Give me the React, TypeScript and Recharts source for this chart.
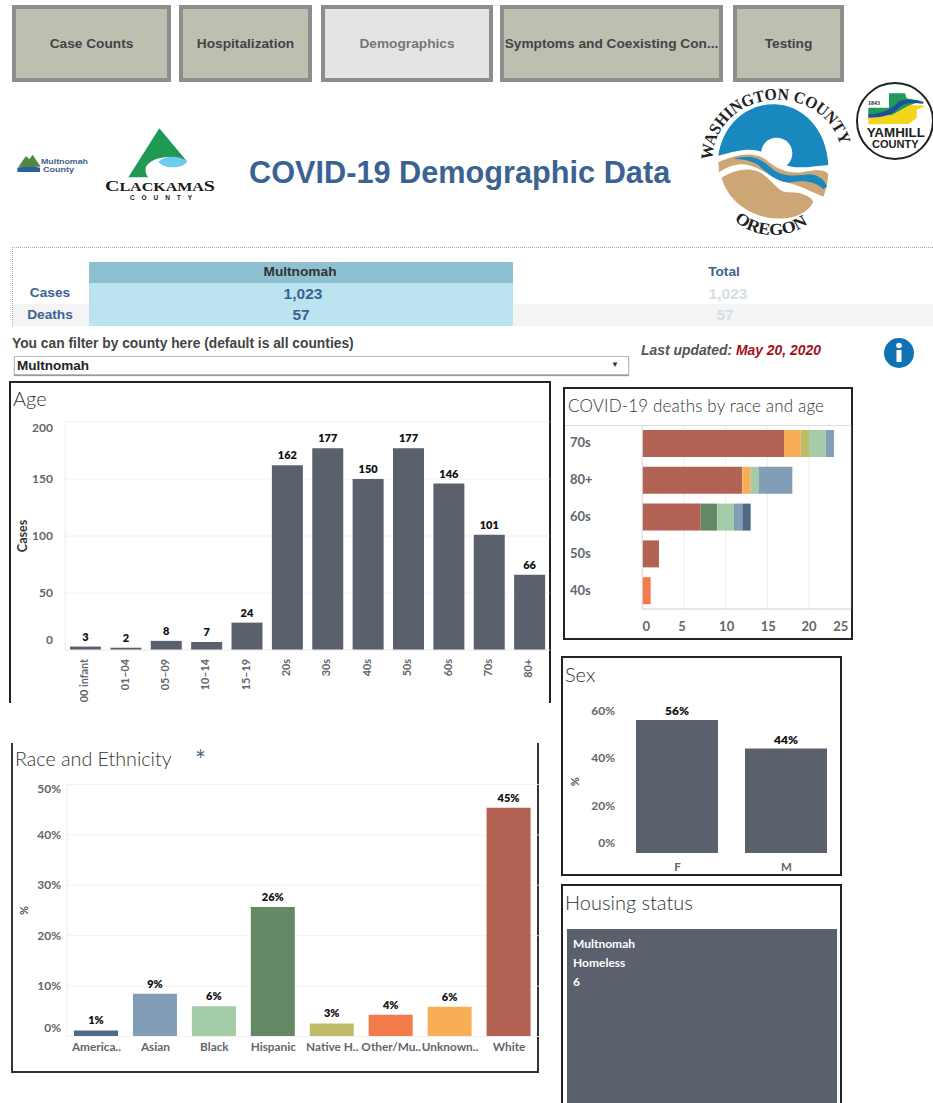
import React from "react";
import { BarChart, Bar, XAxis, YAxis, CartesianGrid, LabelList, Cell, Treemap } from "recharts";

const tabLabels = ["Case Counts", "Hospitalization", "Demographics", "Symptoms and Coexisting Con...", "Testing"];
const ageCategories = ["00 infant", "01–04", "05–09", "10–14", "15–19", "20s", "30s", "40s", "50s", "60s", "70s", "80+"];
const ageCases = [3, 2, 8, 7, 24, 162, 177, 150, 177, 146, 101, 66];
const ageTicks = [0, 50, 100, 150, 200];

const raceCategories = ["America..", "Asian", "Black", "Hispanic", "Native H..", "Other/Mu..", "Unknown..", "White"];
const racePercent = [1.2, 8.5, 6, 25.7, 2.6, 4.3, 5.9, 45.4];
const raceTicks = [0, 10, 20, 30, 40, 50];

const sexCategories = ["F", "M"];
const sexPercent = [56, 44];
const sexTicks = [0, 20, 40, 60];

const deathAges = ["70s", "80+", "60s", "50s", "40s"];
const deathsWhite = [17, 12, 7, 2, 0];
const deathsOther = [0, 0, 0, 0, 1];
const deathsHispanic = [0, 0, 2, 0, 0];
const deathsUnknown = [2, 1, 0, 0, 0];
const deathsNative = [1, 0, 0, 0, 0];
const deathsBlack = [2, 1, 2, 0, 0];
const deathsAsian = [1, 4, 1, 0, 0];
const deathsAmerican = [0, 0, 1, 0, 0];
const deathTicks = [0, 5, 10, 15, 20, 25];

const housingName = "Multnomah";
const housingStatus = "Homeless";
const housingCount = 6;

const BAR = "#5a616d";
const raceColors = ["#4e6a85", "#829eb6", "#a5cca8", "#648964", "#c0bb67", "#f37a4a", "#f8ae57", "#b26253"];
const FONT = "Lato, 'Open Sans', sans-serif";
const SANS = "'Liberation Sans', Arial, sans-serif";
const TICK = "#62666c";

const ageData = ageCategories.map((c, i) => ({ c, v: ageCases[i] }));
const raceData = raceCategories.map((c, i) => ({ c, v: racePercent[i] }));
const sexData = sexCategories.map((c, i) => ({ c, v: sexPercent[i] }));
const deathData = deathAges.map((c, i) => ({
  c,
  White: deathsWhite[i],
  Other: deathsOther[i],
  Hispanic: deathsHispanic[i],
  Unknown: deathsUnknown[i],
  Native: deathsNative[i],
  Black: deathsBlack[i],
  Asian: deathsAsian[i],
  American: deathsAmerican[i],
}));
const deathSeries: [string, string][] = [
  ["White", raceColors[7]],
  ["Other", raceColors[5]],
  ["Hispanic", raceColors[3]],
  ["Unknown", raceColors[6]],
  ["Native", raceColors[4]],
  ["Black", raceColors[2]],
  ["Asian", raceColors[1]],
  ["American", raceColors[0]],
];

const tabBoxes = [
  [12, 159],
  [179, 133],
  [321, 172],
  [500, 223],
  [733, 111],
];

const abs = (left: number, top: number, extra: React.CSSProperties = {}): React.CSSProperties => ({
  position: "absolute",
  left,
  top,
  ...extra,
});

const YTick = (suffix: string, lastBelow: number, zeroUp: number, maxV: number, dx = 0) => (p: any) => {
  const v = p.payload.value;
  const dy = v === 0 ? -zeroUp : v === maxV ? lastBelow : 0;
  return (
    <text x={p.x - 5 + dx} y={p.y + dy + 4} textAnchor="end" fontFamily={FONT} fontWeight={700} fontSize={12} fill={TICK}>
      {v}
      {suffix}
    </text>
  );
};

const SideTitle = (text: string, x: number, color = "#333", size = 12.5) => (p: any) => {
  const y = p.viewBox.y + p.viewBox.height / 2;
  return (
    <text
      x={x}
      y={y}
      transform={`rotate(-90 ${x} ${y})`}
      textAnchor="middle"
      fontFamily={FONT}
      fontWeight={700}
      fontSize={size}
      fill={color}
    >
      {text}
    </text>
  );
};

const AgeXTick = (p: any) => (
  <text
    x={p.x}
    y={p.y}
    transform={`rotate(-90 ${p.x} ${p.y + 1})`}
    dy={4}
    textAnchor="end"
    fontFamily={FONT}
    fontWeight={700}
    fontSize={10.8}
    fill={TICK}
  >
    {p.payload.value}
  </text>
);

const CatTick = (size: number, down: number, right = 0) => (p: any) => (
  <text x={p.x + right} y={p.y + down} textAnchor="middle" fontFamily={FONT} fontWeight={700} fontSize={size} fill={TICK}>
    {p.payload.value}
  </text>
);

const deathTickShift = [4, -2, 1, 1, 0, -10];
const DeathXTick = (p: any) => (
  <text x={p.x + deathTickShift[p.index]} y={p.y + 14} textAnchor="middle" fontFamily={FONT} fontWeight={700} fontSize={13} fill={TICK}>
    {p.payload.value}
  </text>
);
const DeathYTick = (p: any) => (
  <text x={6} y={p.y + 4} fontFamily={FONT} fontWeight={700} fontSize={13} fill={TICK} textAnchor="start">
    {p.payload.value}
  </text>
);

const HousingCell = (p: any) => {
  if (p.depth === 0 || p.width === undefined) return null;
  return (
    <g>
      <rect x={p.x} y={p.y} width={p.width} height={p.height} fill={BAR} />
      <text x={p.x + 6} y={p.y + 19} fontFamily={FONT} fontWeight={700} fontSize={12} fill="#fff">{p.county}</text>
      <text x={p.x + 6} y={p.y + 38} fontFamily={FONT} fontWeight={700} fontSize={12} fill="#fff">{p.status}</text>
      <text x={p.x + 6} y={p.y + 57} fontFamily={FONT} fontWeight={700} fontSize={12} fill="#fff">{p.size}</text>
    </g>
  );
};

const title = (left: number, top: number, size = 18, spacing = 0): React.CSSProperties => ({
  position: "absolute",
  left,
  top,
  fontFamily: FONT,
  fontWeight: 300,
  fontSize: size,
  letterSpacing: spacing,
  color: "#333",
  lineHeight: "20px",
  whiteSpace: "nowrap",
});

const Logos = () => (
  <svg width={933} height={245} style={abs(0, 0)}>
    <g transform="translate(10 120) scale(0.3333)">
      <path d="M25 140 L48 108 L58 118 L68 104 L92 140 Z" fill="#4f8a3c" />
      <path d="M22 143 Q55 135 90 143 L90 156 L22 156 Z" fill="#2a5f9a" />
      <path d="M448 25 L532 125 C490 100 425 110 408 140 C404 155 410 168 416 172 L355 172 Z" fill="#1f9a52" />
      <path d="M445 125 C465 105 510 106 532 125 C520 145 465 150 445 125 Z" fill="#6ccbee" />
    </g>
    <text x={41} y={164} fontFamily={SANS} fontWeight={700} fontSize={8} textLength={47} lengthAdjust="spacingAndGlyphs" fill="#41608a">Multnomah</text>
    <text x={43} y={172} fontFamily={SANS} fontWeight={700} fontSize={8} textLength={31} lengthAdjust="spacingAndGlyphs" fill="#41608a">County</text>
    <text x={105} y={190.5} fontFamily={"'Liberation Serif', serif"} fontWeight={700} fontSize={15} textLength={110} lengthAdjust="spacingAndGlyphs" fill="#1a1a1a">
      C<tspan fontSize={12}>LACKAMA</tspan>S
    </text>
    <text x={130} y={200} fontFamily={SANS} fontWeight={700} fontSize={6.5} textLength={62} fill="#222">COUNTY</text>

    <g transform="translate(695 85) scale(0.3333)">
      <defs>
        <path id="waTop" d="M52 225 A192 178 0 0 1 442 225" />
        <path id="waBottom" d="M118 405 A150 120 0 0 0 352 405" />
      </defs>
      <text fontFamily={"'Liberation Serif', serif"} fontWeight={700} fontSize={50} fill="#222">
        <textPath href="#waTop" textLength={545} lengthAdjust="spacingAndGlyphs">WASHINGTON COUNTY</textPath>
      </text>
      <text fontFamily={"'Liberation Serif', serif"} fontWeight={700} fontSize={50} fill="#222">
        <textPath href="#waBottom" textLength={240} lengthAdjust="spacingAndGlyphs">OREGON</textPath>
      </text>
      <path d="M70 212 C85 110 165 55 240 58 C320 60 395 130 400 240 C350 245 320 250 290 245 C260 240 235 225 210 205 C175 185 130 195 70 212 Z" fill="#1888bf" />
      <circle cx={245} cy={205} r={47} fill="#fff" />
      <path d="M70 232 C120 210 170 198 210 222 C250 258 290 268 330 260 C360 255 390 252 400 268 C398 295 392 320 385 335 C350 322 310 298 270 292 C235 285 195 240 140 238 C115 238 90 250 72 262 Z" fill="#cda676" />
      <path d="M115 222 C160 208 190 215 225 245 C260 280 310 272 340 268 C370 268 390 285 396 305 L385 312 C360 288 320 285 290 292 C250 295 215 265 190 240 C165 225 140 222 115 222 Z" fill="#1888bf" />
      <path d="M80 278 C120 252 170 245 200 265 C235 290 250 320 275 322 C310 320 345 330 355 350 C340 385 290 405 240 400 C160 395 95 340 80 278 Z" fill="#cda676" />

      <circle cx={600} cy={108} r={114} fill="#fff" stroke="#222" strokeWidth={6} />
      <path d="M520 92 L640 60 L692 62 L665 75 L665 100 L640 117 L520 118 Z" fill="#f3d51c" />
      <path d="M582 25 L630 25 L635 40 L680 48 L640 62 L590 90 L520 94 L520 68 L582 68 Z" fill="#1f9a5a" />
      <path d="M520 88 C560 85 590 75 610 50 C630 40 660 45 685 50 L685 56 C650 52 630 52 615 65 C595 90 560 98 520 98 Z" fill="#1d4f9a" />
      <text x={519} y={60} fontFamily={"'Liberation Serif', serif"} fontWeight={700} fontSize={18} fill="#222">1843</text>
      <text x={515} y={155} fontFamily={SANS} fontWeight={700} fontSize={36} textLength={175} lengthAdjust="spacingAndGlyphs" fill="#222">YAMHILL</text>
      <text x={531} y={189} fontFamily={SANS} fontWeight={700} fontSize={34} textLength={140} lengthAdjust="spacingAndGlyphs" fill="#222">COUNTY</text>
    </g>
  </svg>
);

export default function App() {
  return (
    <div style={{ position: "absolute", left: 0, top: 0, width: 933, height: 1103, overflow: "hidden", background: "#fff" }}>
      {tabLabels.map((t, i) => (
        <div
          key={t}
          style={abs(tabBoxes[i][0], 5, {
            width: tabBoxes[i][1],
            height: 77,
            boxSizing: "border-box",
            border: "4px solid #8d8d8d",
            background: i === 2 ? "#e4e4e4" : "#bdbfb1",
            fontFamily: SANS,
            fontWeight: 700,
            fontSize: 13.7,
            color: i === 2 ? "#777" : "#444",
            display: "flex",
            alignItems: "center",
            justifyContent: "center",
            whiteSpace: "nowrap",
            overflow: "hidden",
          })}
        >
          {t}
        </div>
      ))}

      <Logos />
      <div style={abs(249, 154, { fontFamily: SANS, fontWeight: 700, fontSize: 30.7, color: "#3b6391", whiteSpace: "nowrap", lineHeight: "38px" })}>
        COVID-19 Demographic Data
      </div>

      <div style={abs(12, 247, { width: 921, height: 0, borderTop: "1px dotted #aaa" })} />
      <div style={abs(12, 247, { width: 0, height: 79, borderLeft: "1px dotted #aaa" })} />
      <div style={abs(13, 304, { width: 920, height: 22, background: "#f4f4f4" })} />
      <div style={abs(89, 262, { width: 424, height: 21, background: "#8dc0d0" })} />
      <div style={abs(89, 283, { width: 424, height: 43, background: "#bce3f0" })} />
      {[
        ["Multnomah", 300, 272, "#333", 13.7],
        ["Total", 724, 272, "#3b6391", 13.7],
        ["1,023", 303, 294, "#3b6391", 15.5],
        ["1,023", 728, 294, "#d4dde8", 15.5],
        ["57", 301, 315, "#3b6391", 15.5],
        ["57", 725, 315, "#d4dde8", 15.5],
        ["Cases", 50, 293, "#3b6391", 13.7],
        ["Deaths", 50, 315, "#3b6391", 13.7],
      ].map(([t, x, y, c, s]: any) => (
        <div key={`${t}${x}`} style={abs(x - 60, y - 10, { width: 120, textAlign: "center", fontFamily: SANS, fontWeight: 700, fontSize: s, lineHeight: "20px", color: c })}>
          {t}
        </div>
      ))}

      <div style={abs(12, 335, { fontFamily: SANS, fontWeight: 700, fontSize: 13.8, color: "#444", lineHeight: "18px", whiteSpace: "nowrap" })}>
        You can filter by county here (default is all counties)
      </div>
      <div style={abs(14, 356, { width: 615, height: 19, boxSizing: "border-box", border: "1px solid #bbb", boxShadow: "0 1px 1px #999", fontFamily: SANS, fontWeight: 700, fontSize: 13.5, color: "#222", padding: "0 2px", lineHeight: "17px" })}>
        Multnomah
      </div>
      <div style={abs(611, 360, { fontSize: 8, color: "#333", fontFamily: SANS })}>▼</div>
      <div style={abs(641, 341, { fontFamily: SANS, fontWeight: 700, fontStyle: "italic", fontSize: 13.9, color: "#555", lineHeight: "18px", whiteSpace: "nowrap" })}>
        Last updated: <span style={{ color: "#a31020" }}>May 20, 2020</span>
      </div>
      <svg width={34} height={34} style={abs(882, 336)}>
        <circle cx={17} cy={17} r={15} fill="#0f72b4" />
        <rect x={14.5} y={14} width={5} height={12} fill="#fff" />
        <circle cx={17} cy={9.5} r={2.8} fill="#fff" />
      </svg>

      {/* Age */}
      <div style={abs(9, 381, { width: 542, height: 322, boxSizing: "border-box", borderTop: "2px solid #222", borderLeft: "2px solid #222", borderRight: "2px solid #222" })} />
      <div style={title(13, 388, 20)}>Age</div>
      <div style={abs(9, 381)}>
        <BarChart width={542} height={322} data={ageData} margin={{ top: 41, right: 1.5, bottom: 0, left: 0 }} barSize={31}>
          <CartesianGrid vertical={false} stroke="#f0f0f0" />
          <XAxis dataKey="c" height={53} interval={0} tickLine={false} axisLine={{ stroke: "#eee" }} tick={AgeXTick} />
          <YAxis width={56} domain={[0, 200]} ticks={ageTicks} tickLine={false} axisLine={{ stroke: "#eee" }} tick={YTick("", 6, 10, 200, 1)} label={{ content: SideTitle("Cases", 18) }} />
          <Bar dataKey="v" fill={BAR} isAnimationActive={false}>
            <LabelList dataKey="v" position="top" offset={6} fontFamily={FONT} fontWeight={800} fontSize={11} fill="#111" />
          </Bar>
        </BarChart>
      </div>

      {/* Race */}
      <div style={abs(11, 743, { width: 528, height: 330, boxSizing: "border-box", borderBottom: "2px solid #333", borderLeft: "2px solid #333", borderRight: "2px solid #333" })} />
      <div style={title(15, 749, 19.7)}>Race and Ethnicity</div>
      <div style={abs(195, 748, { fontFamily: FONT, fontWeight: 400, fontSize: 26, color: "#4e6a85", lineHeight: "24px" })}>*</div>
      <div style={abs(11, 743)}>
        <BarChart width={528} height={330} data={raceData} margin={{ top: 41.5, right: 0.5, bottom: 0, left: 0 }} barSize={44}>
          <CartesianGrid vertical={false} stroke="#f2f2f2" />
          <XAxis dataKey="c" height={36.5} interval={0} tickLine={false} axisLine={{ stroke: "#eee" }} tick={CatTick(11.8, 6)} />
          <YAxis width={56} domain={[0, 50]} ticks={raceTicks} tickLine={false} axisLine={{ stroke: "#eee" }} tick={YTick("%", 4, 9, 50, 7)} label={{ content: SideTitle("%", 17, "#555", 11) }} />
          <Bar dataKey="v" isAnimationActive={false}>
            {raceData.map((d, i) => (
              <Cell key={d.c} fill={raceColors[i]} />
            ))}
            <LabelList dataKey="v" position="top" offset={6} formatter={(v: number) => `${Math.round(v)}%`} fontFamily={FONT} fontWeight={800} fontSize={11} fill="#111" />
          </Bar>
        </BarChart>
      </div>

      {/* Deaths */}
      <div style={abs(563, 387, { width: 290, height: 253, boxSizing: "border-box", border: "2px solid #222" })} />
      <div style={title(568, 396, 17, 0.15)}>COVID-19 deaths by race and age</div>
      <div style={abs(565, 425, { width: 286, height: 1, background: "#ddd" })} />
      <div style={abs(564, 425)}>
        <BarChart width={288} height={214} layout="vertical" data={deathData} margin={{ top: 0, right: 1.3, bottom: 0, left: 0 }} barSize={27}>
          <CartesianGrid horizontal={false} stroke="#ececec" />
          <XAxis type="number" domain={[0, 25]} ticks={deathTicks} height={30} interval={0} tickLine={false} axisLine={{ stroke: "#ccc" }} tick={DeathXTick} />
          <YAxis type="category" dataKey="c" width={78.3} tickLine={false} axisLine={{ stroke: "#ddd" }} tick={DeathYTick} />
          {deathSeries.map(([k, color]) => (
            <Bar key={k} dataKey={k} stackId="race" fill={color} isAnimationActive={false} />
          ))}
        </BarChart>
      </div>

      {/* Sex */}
      <div style={abs(561, 656, { width: 281, height: 220, boxSizing: "border-box", border: "2px solid #222" })} />
      <div style={title(565, 664, 20)}>Sex</div>
      <div style={abs(561, 656)}>
        <BarChart width={279} height={218} data={sexData} margin={{ top: 54.5, right: 0, bottom: 0, left: 0 }} barSize={82}>
          <XAxis dataKey="c" height={21} tickLine={false} axisLine={false} tick={CatTick(11.5, 10, 1)} />
          <YAxis width={61} domain={[0, 60]} ticks={sexTicks} tickLine={false} axisLine={false} tick={YTick("%", 0, 10, 60, 6)} label={{ content: SideTitle("%", 18, "#555", 11) }} />
          <Bar dataKey="v" fill={BAR} isAnimationActive={false}>
            <LabelList dataKey="v" position="top" offset={5} formatter={(v: number) => `${v}%`} fontFamily={FONT} fontWeight={800} fontSize={12} fill="#111" />
          </Bar>
        </BarChart>
      </div>

      {/* Housing */}
      <div style={abs(561, 884, { width: 281, height: 240, boxSizing: "border-box", border: "2px solid #222" })} />
      <div style={title(565, 892, 20)}>Housing status</div>
      <div style={abs(567, 929)}>
        <Treemap
          width={270}
          height={176}
          data={[{ name: housingName, county: housingName, status: housingStatus, size: housingCount }]}
          dataKey="size"
          isAnimationActive={false}
          content={<HousingCell />}
        />
      </div>
    </div>
  );
}
